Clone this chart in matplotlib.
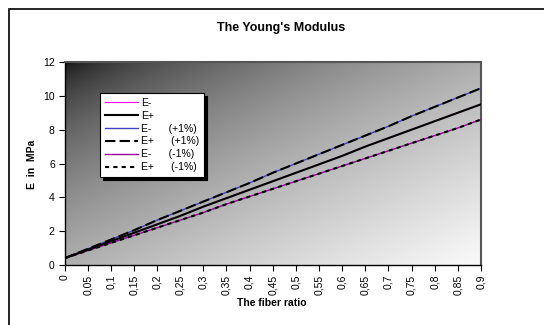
import matplotlib
matplotlib.use("Agg")
import matplotlib.pyplot as plt
import numpy as np

plt.rcParams['font.family'] = ['Liberation Sans', 'DejaVu Sans']

# fiber ratio categories and their labels (decimal comma as in the source)
ratio = [0, 0.05, 0.1, 0.15, 0.2, 0.25, 0.3, 0.35, 0.4, 0.45,
         0.5, 0.55, 0.6, 0.65, 0.7, 0.75, 0.8, 0.85, 0.9]
ratio_labels = ['0', '0,05', '0,1', '0,15', '0,2', '0,25', '0,3', '0,35', '0,4', '0,45',
                '0,5', '0,55', '0,6', '0,65', '0,7', '0,75', '0,8', '0,85', '0,9']

# Young's modulus (MPa)
e_minus = [0.4, 0.9, 1.4, 1.9, 2.4, 2.9, 3.45, 3.95, 4.45, 4.95,
           5.45, 5.95, 6.45, 7.0, 7.5, 8.0, 8.5, 9.0, 9.5]
e_plus = [0.4, 0.9, 1.4, 1.9, 2.4, 2.9, 3.45, 3.95, 4.45, 4.95,
          5.45, 5.95, 6.45, 7.0, 7.5, 8.0, 8.5, 9.0, 9.5]
e_minus_p1 = [0.4, 0.95, 1.5, 2.05, 2.65, 3.2, 3.75, 4.3, 4.85, 5.45,
              6.0, 6.55, 7.1, 7.65, 8.2, 8.8, 9.35, 9.9, 10.45]
e_plus_p1 = [0.4, 0.95, 1.5, 2.05, 2.65, 3.2, 3.75, 4.3, 4.85, 5.45,
             6.0, 6.55, 7.1, 7.65, 8.2, 8.8, 9.35, 9.9, 10.45]
e_minus_m1 = [0.4, 0.85, 1.3, 1.75, 2.2, 2.65, 3.1, 3.6, 4.05, 4.5,
              4.95, 5.4, 5.85, 6.3, 6.75, 7.2, 7.65, 8.1, 8.6]
e_plus_m1 = [0.4, 0.85, 1.3, 1.75, 2.2, 2.65, 3.1, 3.6, 4.05, 4.5,
             4.95, 5.4, 5.85, 6.3, 6.75, 7.2, 7.65, 8.1, 8.6]

W, H = 544, 325
fig = plt.figure(figsize=(W / 100, H / 100), dpi=100)
fig.patch.set_facecolor('white')

# plot area in pixel coordinates
x0, x1, y0, y1 = 64.5, 481, 62, 265
ax = fig.add_axes([x0 / W, 1 - y1 / H, (x1 - x0) / W, (y1 - y0) / H])

# diagonal gradient: dark top-left -> white bottom-right
u = np.linspace(0, 1, 300)
v = np.linspace(0, 1, 200)
U, V = np.meshgrid(u, v)
s = (U + V) / 2
grad = 0.04 + 0.94 * s ** 0.55
ax.imshow(grad, cmap='gray', vmin=0, vmax=1, extent=[0, 0.9, 0, 12],
          origin='upper', aspect='auto', zorder=0, interpolation='bilinear')

ax.plot(ratio, e_minus, color='#ff00ff', lw=0.8, label='E-', zorder=3)
ax.plot(ratio, e_plus, color='black', lw=1.5, label='E+', zorder=4)
ax.plot(ratio, e_minus_p1, color='#4040c0', lw=1.0, label='E-      (+1%)', zorder=3)
ax.plot(ratio, e_plus_p1, color='black', lw=1.5, dashes=(5, 2), label='E+      (+1%)', zorder=4)
ax.plot(ratio, e_minus_m1, color='#990099', lw=1.0, label='E-      (-1%)', zorder=3)
ax.plot(ratio, e_plus_m1, color='black', lw=1.5, dashes=(2, 2), label='E+      (-1%)', zorder=4)

ax.set_xlim(0, 0.9)
ax.set_ylim(0, 12)
ax.set_xticks(ratio)
ax.set_xticklabels(ratio_labels, rotation=90, fontsize=7.5)
ax.set_yticks([0, 2, 4, 6, 8, 10, 12])
ax.tick_params(axis='both', direction='out', length=4, width=0.8, labelsize=7.5, pad=3)
for side in ['top', 'right']:
    ax.spines[side].set_color('#555555')
    ax.spines[side].set_linewidth(1.5)
for side in ['left', 'bottom']:
    ax.spines[side].set_color('black')
    ax.spines[side].set_linewidth(1.0)

leg = ax.legend(loc='upper left', bbox_to_anchor=(100 / W, 1 - 93 / H),
                bbox_transform=fig.transFigure, fontsize=7.5, frameon=True,
                fancybox=False, shadow={'color': 'black', 'alpha': 1},
                handlelength=3.2, handletextpad=0.3, labelspacing=0.28,
                borderpad=0.45, borderaxespad=0)
leg.get_frame().set_edgecolor('black')
leg.get_frame().set_linewidth(0.8)
leg.get_frame().set_alpha(1)

fig.text(281 / W, 1 - 28 / H, "The Young's Modulus", ha='center', va='center',
         fontsize=9, fontweight='bold')
fig.text(272 / W, 1 - 303 / H, 'The fiber ratio', ha='center', va='center',
         fontsize=7.5, fontweight='bold')
fig.text(32 / W, 1 - 164 / H, 'E  in  MPa', ha='center', va='center',
         rotation=90, fontsize=7.5, fontweight='bold')

# chart area border (continues past the right and bottom of the image)
fig.add_artist(plt.Rectangle((9 / W, -0.2), 1.2, 1 - 9 / H + 0.2,
                             transform=fig.transFigure, fill=False,
                             ec='black', lw=1.2))

fig.savefig('out.png', dpi=100)
